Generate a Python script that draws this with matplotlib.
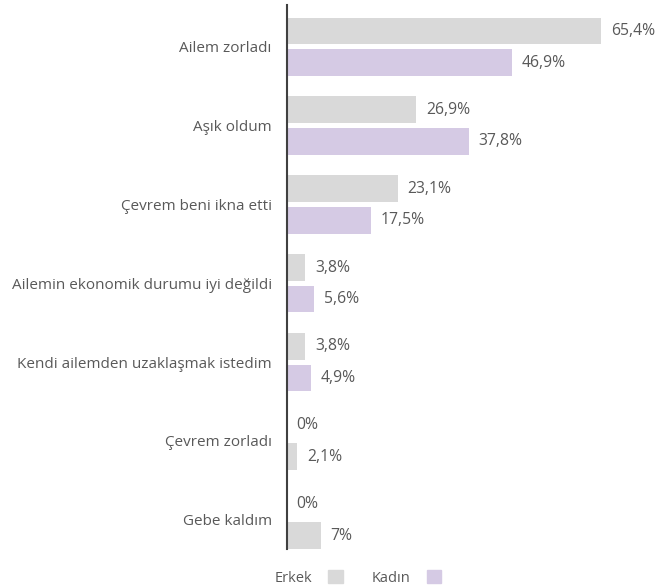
import matplotlib.pyplot as plt
from matplotlib.patches import Patch
import numpy as np

plt.rcParams['font.family'] = ['Open Sans', 'DejaVu Sans']

# Data
categories = ['Ailem zorladı', 'Aşık oldum', 'Çevrem beni ikna etti',
              'Ailemin ekonomik durumu iyi değildi',
              'Kendi ailemden uzaklaşmak istedim', 'Çevrem zorladı', 'Gebe kaldım']
erkek = [65.4, 26.9, 23.1, 3.8, 3.8, 0, 0]
kadin = [46.9, 37.8, 17.5, 5.6, 4.9, 2.1, 7]

grey = '#d9d9d9'
purple = '#d5cae4'
text_col = '#595959'
# the last two Kadın bars are grey in the original
kadin_colors = [purple] * 5 + [grey] * 2

fig = plt.figure(figsize=(6.65, 5.88), dpi=100)
ax = fig.add_axes([287 / 665, 1 - 549 / 588, 1 - 287 / 665, 544 / 588])

y = np.arange(len(categories))
h = 0.34
off = 0.2
ax.barh(y - off, erkek, height=h, color=grey)
ax.barh(y + off, kadin, height=h, color=kadin_colors)

def fmt(v):
    return f'{v:g}'.replace('.', ',') + '%'

for yi, v in zip(y, erkek):
    ax.annotate(fmt(v), (v, yi - off), xytext=(7, 0), textcoords='offset points',
                ha='left', va='center', fontsize=11.3, color=text_col)
for yi, v in zip(y, kadin):
    ax.annotate(fmt(v), (v, yi + off), xytext=(7, 0), textcoords='offset points',
                ha='left', va='center', fontsize=11.3, color=text_col)

ax.set_xlim(0, 78.7)
ax.set_ylim(6.37, -0.53)
ax.set_yticks(y)
ax.set_yticklabels(categories, fontsize=11, color=text_col)
ax.tick_params(axis='y', length=0, pad=11)
ax.set_xticks([])
for s in ['top', 'right', 'bottom']:
    ax.spines[s].set_visible(False)
ax.spines['left'].set_color('#404040')
ax.spines['left'].set_linewidth(1.5)

handles = [Patch(color=grey, label='Erkek'), Patch(color=purple, label='Kadın')]
leg = fig.legend(handles=handles, loc='center', bbox_to_anchor=(358 / 665, 1 - 578 / 588),
                 ncol=2, frameon=False, markerfirst=False, handlelength=1.0,
                 handleheight=1.0, columnspacing=2.0, handletextpad=1.1, fontsize=10.5)
for t in leg.get_texts():
    t.set_color(text_col)

fig.savefig('out.png', dpi=100)
